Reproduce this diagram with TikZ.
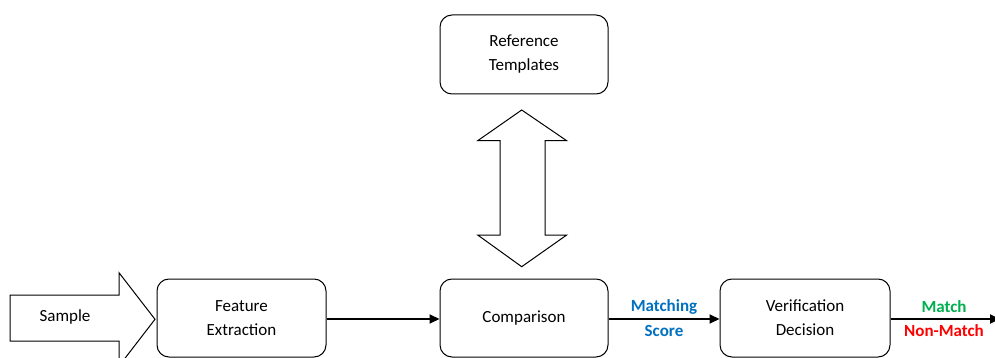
\documentclass[tikz,border=0pt]{standalone}
\usepackage{fontspec}
\setmainfont{Carlito}
\usetikzlibrary{arrows.meta}
\definecolor{scoreblue}{RGB}{0,112,192}
\definecolor{matchgreen}{RGB}{0,176,80}
\definecolor{nonmatchred}{RGB}{255,0,0}
\tikzset{
  stagebox/.style={draw=black, line width=1pt, rounded corners=12pt, fill=white,
    align=center, font=\fontsize{17}{24}\selectfont, inner sep=0pt},
  conn/.style={draw=black, line width=1.8pt, -{Triangle[length=10pt,width=9pt]}},
  bigarrow/.style={draw=black, line width=1pt, fill=white, line join=miter},
  lbl/.style={font=\fontsize{17}{20}\selectfont\bfseries, inner sep=0pt}
}
\begin{document}
\begin{tikzpicture}[x=1pt, y=-1pt]
  \clip (0,0) rectangle (995,358);
  \fill[white] (0,0) rectangle (995,358);

  % stage boxes
  \node[stagebox, minimum width=168pt, minimum height=79pt] (ref) at (524,54.5) {Reference\\Templates};
  \node[stagebox, minimum width=169pt, minimum height=78pt] (fe) at (241.5,318) {Feature\\Extraction};
  \node[stagebox, minimum width=168pt, minimum height=78pt] (cmp) at (524,318) {Comparison};
  \node[stagebox, minimum width=170pt, minimum height=78pt] (vd) at (805,318) {Verification\\Decision};

  % block arrow feeding the sample in
  \path[bigarrow] (10,295) -- (119,295) -- (119,272.7) -- (155,319.3) -- (119,366)
    -- (119,341) -- (10,341) -- cycle;
  \node[font=\fontsize{17}{20}\selectfont] (sample) at (65,317) {Sample};

  % two-way block arrow between templates and comparison
  \path[bigarrow] (521.7,110) -- (566.7,140.7) -- (545,140.7) -- (545,235) -- (566.7,235)
    -- (521.7,266.7) -- (477.7,235) -- (500,235) -- (500,140.7) -- (477.7,140.7) -- cycle;

  % connectors
  \coordinate (out) at (1000,319);
  \draw[conn] (fe.east |- 0,319) -- (cmp.west |- 0,319);
  \draw[conn] (cmp.east |- 0,319) -- (vd.west |- 0,319);
  \draw[conn] (vd.east |- 0,319) -- (out);

  % labels on the connectors
  \node[lbl, text=scoreblue] (ms1) at (664,307) {Matching};
  \node[lbl, text=scoreblue] (ms2) at (664,331) {Score};
  \node[lbl, text=matchgreen] (m1) at (944,307) {Match};
  \node[lbl, text=nonmatchred] (m2) at (944,331) {Non-Match};
\end{tikzpicture}
\end{document}
